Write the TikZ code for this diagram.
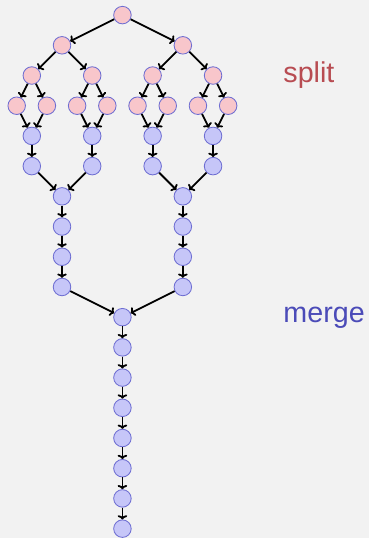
\documentclass[tikz,border=0pt]{standalone}
\usepackage{fontspec}
\setmainfont{Liberation Sans}
\usetikzlibrary{arrows.meta}
\definecolor{bgc}{HTML}{F2F2F2}
\definecolor{pinkc}{HTML}{F8C6CB}
\definecolor{bluec}{HTML}{C6C6F8}
\definecolor{rimc}{HTML}{6E6ED2}
\definecolor{splitc}{HTML}{B84C52}
\definecolor{mergec}{HTML}{4B4BB8}
\tikzset{>={To[width=9pt,length=4pt]},task/.style={circle,draw=rimc,line width=.8pt,minimum size=5.8mm,inner sep=0pt},sp/.style={task,fill=pinkc},mg/.style={task,fill=bluec},link/.style={->,line width=1.7pt},tag/.style={anchor=base west,font=\fontsize{27}{30}\selectfont}}

\begin{document}
\begin{tikzpicture}
\fill[bgc] (0,0) rectangle (12.22,-17.81);
% split part
\node[sp] (r) at (4.053,-.5) {};
\foreach \i in {1,2} \node[sp] (a\i) at ({4*\i-1.947},-1.5) {};
\foreach \i in {1,...,4} \node[sp] (b\i) at ({2*\i-.947},-2.5) {};
\foreach \i in {1,...,8} \node[sp] (c\i) at ({\i-.447},-3.5) {};
% merge part
\foreach \i in {1,...,4} {\node[mg] (d\i) at ({2*\i-.947},-4.5) {};\node[mg] (e\i) at ({2*\i-.947},-5.5) {};}
\foreach \k in {6,...,9} {\node[mg] (L\k) at (2.053,-\k-.5) {};\node[mg] (R\k) at (6.053,-\k-.5) {};}
\foreach \k in {10,...,17} \node[mg] (M\k) at (4.053,-\k-.5) {};
\foreach \p/\q in {r/a1,r/a2,a1/b1,a1/b2,a2/b3,a2/b4,b1/c1,b1/c2,b2/c3,b2/c4,b3/c5,b3/c6,b4/c7,b4/c8,
  c1/d1,c2/d1,c3/d2,c4/d2,c5/d3,c6/d3,c7/d4,c8/d4,d1/e1,d2/e2,d3/e3,d4/e4,e1/L6,e2/L6,e3/R6,e4/R6,
  L6/L7,L7/L8,L8/L9,R6/R7,R7/R8,R8/R9,L9/M10,R9/M10}
  \draw[link] (\p)--(\q);
\foreach \k [evaluate=\k as \n using int(\k+1)] in {10,...,16} \draw[link] (M\k)--(M\n);
\node[tag,text=splitc] (splitlbl) at (9.26,-2.74) {split};
\node[tag,text=mergec] (mergelbl) at (9.26,-10.66) {merge};
\end{tikzpicture}
\end{document}
